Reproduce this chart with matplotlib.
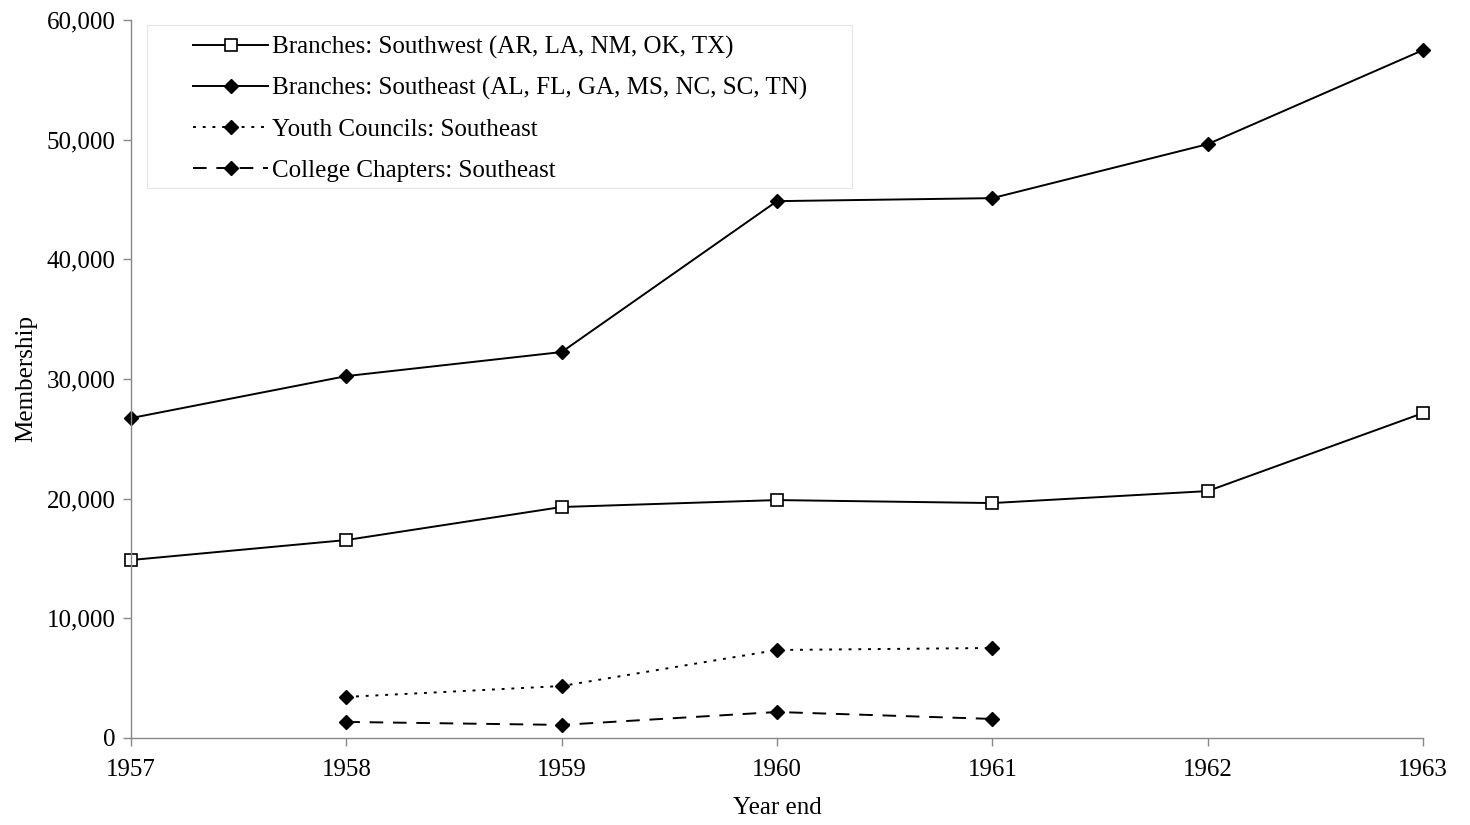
import matplotlib
matplotlib.use('Agg')
import matplotlib.pyplot as plt
from matplotlib.patches import Rectangle

years = [1957, 1958, 1959, 1960, 1961, 1962, 1963]
southwest = [14870, 16540, 19300, 19880, 19630, 20630, 27150]
southeast = [26730, 30240, 32250, 44860, 45110, 49620, 57480]
youth_years = [1958, 1959, 1960, 1961]
youth = [3430, 4340, 7350, 7520]
college = [1340, 1090, 2170, 1590]

yticks = [0, 10000, 20000, 30000, 40000, 50000, 60000]

plt.rcParams['font.family'] = ['Liberation Serif', 'DejaVu Serif']
plt.rcParams['font.size'] = 18

fig = plt.figure(figsize=(14.7, 8.25), dpi=100)
ax = fig.add_axes([0.0891, 0.1055, 0.8789, 0.8703])

ax.plot(years, southwest, color='k', lw=1.4, marker='s', ms=8,
        mfc='white', mec='k', mew=1.2, clip_on=False,
        label='Branches: Southwest (AR, LA, NM, OK, TX)')
ax.plot(years, southeast, color='k', lw=1.4, marker='D', ms=7, clip_on=False,
        label='Branches: Southeast (AL, FL, GA, MS, NC, SC, TN)')
ax.plot(youth_years, youth, color='k', lw=1.4, linestyle=(0, (1.5, 3.5)),
        marker='D', ms=7, label='Youth Councils: Southeast')
ax.plot(youth_years, college, color='k', lw=1.4, linestyle=(0, (7, 5)),
        marker='D', ms=7, label='College Chapters: Southeast')

ax.set_xlim(1957, 1963)
ax.set_ylim(0, 60000)
ax.set_yticks(yticks)
ax.set_yticklabels(['{:,}'.format(v) for v in yticks])
ax.set_xticks(years)

for s in ['top', 'right']:
    ax.spines[s].set_visible(False)
for s in ['left', 'bottom']:
    ax.spines[s].set_color('#888888')
    ax.spines[s].set_linewidth(1.0)
ax.tick_params(axis='both', colors='#888888', labelcolor='k', length=6,
               width=1.0, labelsize=18)
ax.tick_params(axis='x', pad=9)
ax.tick_params(axis='y', pad=5)

ax.set_xlabel('Year end', fontsize=18, labelpad=12)
ax.set_ylabel('Membership', fontsize=18, labelpad=7)

# legend frame drawn separately (wide padding as in the original)
ax.add_patch(Rectangle((0.0124, 0.766), 0.5457, 0.227, transform=ax.transAxes,
                       facecolor='white', edgecolor='#e4e4e4', lw=0.8,
                       zorder=4))
leg = ax.legend(loc='upper left', bbox_to_anchor=(193 / 1470, (825 - 36) / 825),
                bbox_transform=fig.transFigure, frameon=False,
                handlelength=3.0, handletextpad=0.15, labelspacing=0.73,
                borderpad=0, borderaxespad=0, fontsize=18)
leg.set_zorder(5)

fig.savefig('out.png', dpi=100)
